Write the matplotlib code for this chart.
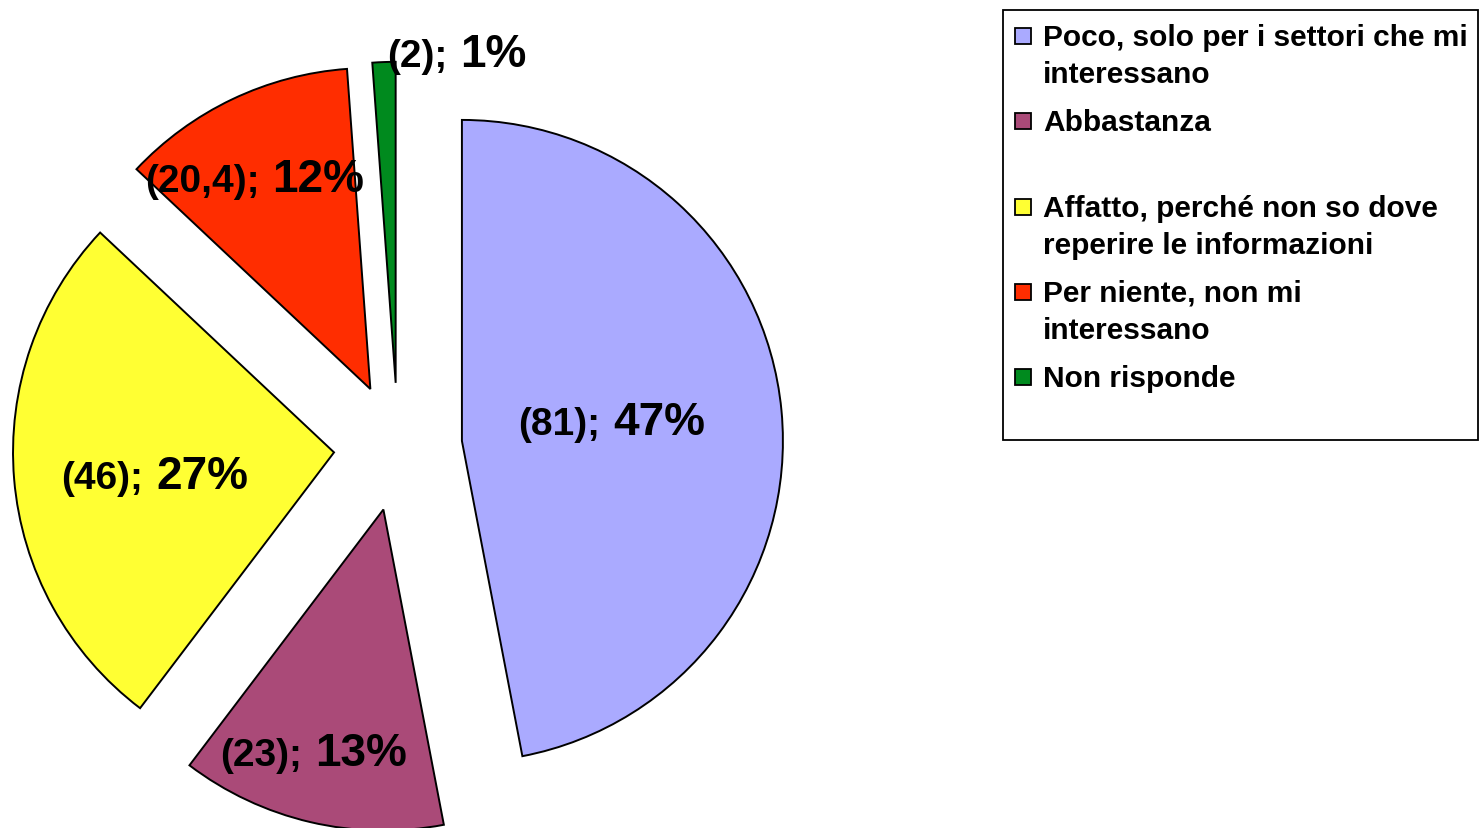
import numpy as np
import matplotlib.pyplot as plt
from matplotlib.patches import Rectangle

plt.rcParams['font.family'] = ['Liberation Sans', 'DejaVu Sans']

# dati del grafico
categorie = ['Poco, solo per i settori che mi\ninteressano',
             'Abbastanza',
             'Affatto, perché non so dove\nreperire le informazioni',
             'Per niente, non mi\ninteressano',
             'Non risponde']
valori = [81, 23, 46, 20.4, 2]
colori = ['#AAAAFF', '#AA4A78', '#FFFF33', '#FF2D00', '#008A1E']

# posizione delle etichette: distanza dal centro e rotazione (gradi)
label_r = [0.651, 1.03, 0.786, 0.897, 1.2]
label_shift = [-1.8, -2.6, 4.6, 1.9, -10.3]

W, H = 1480, 829
cx, cy, R = 398, 448, 321  # centro e raggio della torta in pixel

fig = plt.figure(figsize=(W / 100, H / 100), dpi=100)
ax = fig.add_axes([0, 0, 1, 1])

wedges, _ = ax.pie(valori, colors=colori, startangle=90, counterclock=False,
                   explode=[0.2] * len(valori), radius=1,
                   wedgeprops=dict(edgecolor='black', linewidth=1.4))
ax.set_xlim(-cx / R, (W - cx) / R)
ax.set_ylim((cy - H) / R, cy / R)
ax.set_aspect('equal')
ax.axis('off')

totale = sum(valori)
for w, v, r, sh in zip(wedges, valori, label_r, label_shift):
    ang = np.deg2rad((w.theta1 + w.theta2) / 2 + sh)
    x, y = r * np.cos(ang), r * np.sin(ang)
    testo_val = '(' + f'{v:g}'.replace('.', ',') + ');'
    testo_pct = f'{round(v / totale * 100)}%'
    ax.annotate(testo_val, (x, y), xytext=(-6, 0), textcoords='offset pixels',
                ha='right', va='baseline', fontsize=28, fontweight='bold')
    ax.annotate(testo_pct, (x, y), xytext=(7, 0), textcoords='offset pixels',
                ha='left', va='baseline', fontsize=33, fontweight='bold')

# legenda disegnata a mano in coordinate pixel
lax = fig.add_axes([0, 0, 1, 1])
lax.set_xlim(0, W)
lax.set_ylim(H, 0)
lax.axis('off')
lax.patch.set_visible(False)

lax.add_patch(Rectangle((1003, 11), 475, 430, fill=False, edgecolor='black', linewidth=1.3))
for i, (lab, col) in enumerate(zip(categorie, colori)):
    base = 46 + i * 85.3
    lax.add_patch(Rectangle((1015, base - 17), 16, 16, facecolor=col,
                            edgecolor='black', linewidth=1.3))
    for j, riga in enumerate(lab.split('\n')):
        lax.text(1043, base + j * 37, riga, ha='left', va='baseline',
                 fontsize=21.5, fontweight='bold')

fig.savefig('out.png', dpi=100, facecolor='white')
